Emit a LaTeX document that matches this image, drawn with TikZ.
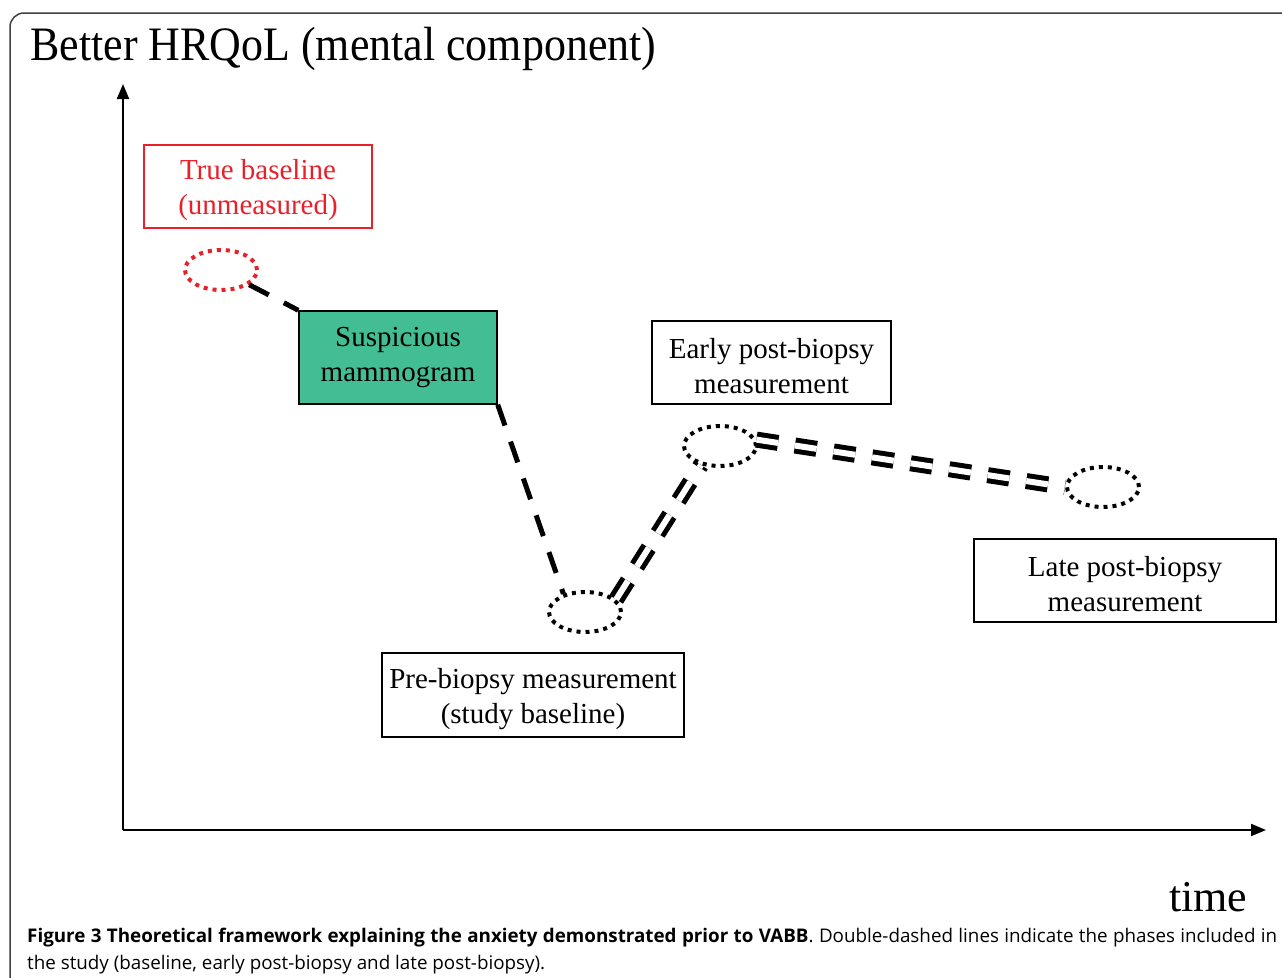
\documentclass[tikz,border=0pt]{standalone}
\usepackage{fontspec}
\setmainfont{Liberation Serif}
\newfontfamily\titlefont[FakeStretch=0.915]{Liberation Serif}
\newfontfamily\capfont{Open Sans}
\usetikzlibrary{arrows.meta,shapes.geometric}
\definecolor{mamgreen}{RGB}{67,189,148}
\definecolor{basered}{RGB}{232,32,42}
\newcommand{\lowtext}{\rule{0pt}{28pt}}

\begin{document}
\begin{tikzpicture}[x=1pt,y=-1pt,
    box/.style={draw, line width=1.5, align=center, inner sep=0pt,
        font=\fontsize{29}{35}\selectfont},
    spot/.style={ellipse, draw, line width=4, dash pattern=on 4 off 5,
        minimum width=72, minimum height=40, inner sep=0pt},
    single/.style={line width=5, dash pattern=on 22 off 17},
    twin/.style={double, line width=5, double distance=6, dash pattern=on 22 off 17},
    axis/.style={line width=2, -{Triangle[length=15,width=12]}}]
    \useasboundingbox (0,0) rectangle (1282,977);

    % Frame
    \draw[black!75, line width=1.5, rounded corners=14] (10,995) -- (10,13) -- (1300,13);

    % Axes
    \coordinate (origin) at (123,830);
    \coordinate (ytop) at (123,84);
    \coordinate (xend) at (1266,830);
    \draw[axis] (origin) -- (ytop);
    \draw[axis] (origin) -- (xend);
    \node[anchor=base west, font=\titlefont\fontsize{48}{56}\selectfont] (ylabel) at (27,60) {Better HRQoL (mental component)};
    \node[anchor=base east, font=\fontsize{44}{50}\selectfont] (xlabel) at (1251,911) {time};

    % Boxes
    \node[box, draw=basered, text=basered, minimum width=228, minimum height=83] (truebox) at (258,186.5) {\lowtext True baseline\\(unmeasured)};
    \node[box, fill=mamgreen, minimum width=198, minimum height=93] (mammo) at (398,357.5) {Suspicious\\mammogram};
    \node[box, minimum width=302, minimum height=84] (prebox) at (533,695) {\lowtext Pre-biopsy measurement\\(study baseline)};
    \node[box, minimum width=239, minimum height=83] (earlybox) at (771.5,362.5) {\lowtext Early post-biopsy\\measurement};
    \node[box, minimum width=302, minimum height=83] (latebox) at (1125,580.5) {\lowtext Late post-biopsy\\measurement};

    % Measurements
    \node[spot, draw=basered] (e0) at (221,270) {};
    \node[spot] (e1) at (585,612) {};
    \node[spot] (e2) at (720,446) {};
    \node[spot] (e3) at (1103,487) {};

    % Phases
    \draw[single] (e0) -- (mammo.north west);
    \draw[single] (mammo.south east) -- (e1.140);
    \draw[twin] (e1.22) -- (e2.-135);
    \draw[twin] (e2.10) -- (e3.180);

    % Caption
    \node[anchor=north west, inner sep=0pt, text width=1250, align=justify,
        font=\capfont\fontsize{18.8}{26.5}\selectfont] (caption) at (27,928)
        {\textbf{Figure 3 Theoretical framework explaining the anxiety demonstrated prior to VABB}. Double-dashed lines indicate the phases included in\linebreak the study (baseline, early post-biopsy and late post-biopsy).};
\end{tikzpicture}
\end{document}
